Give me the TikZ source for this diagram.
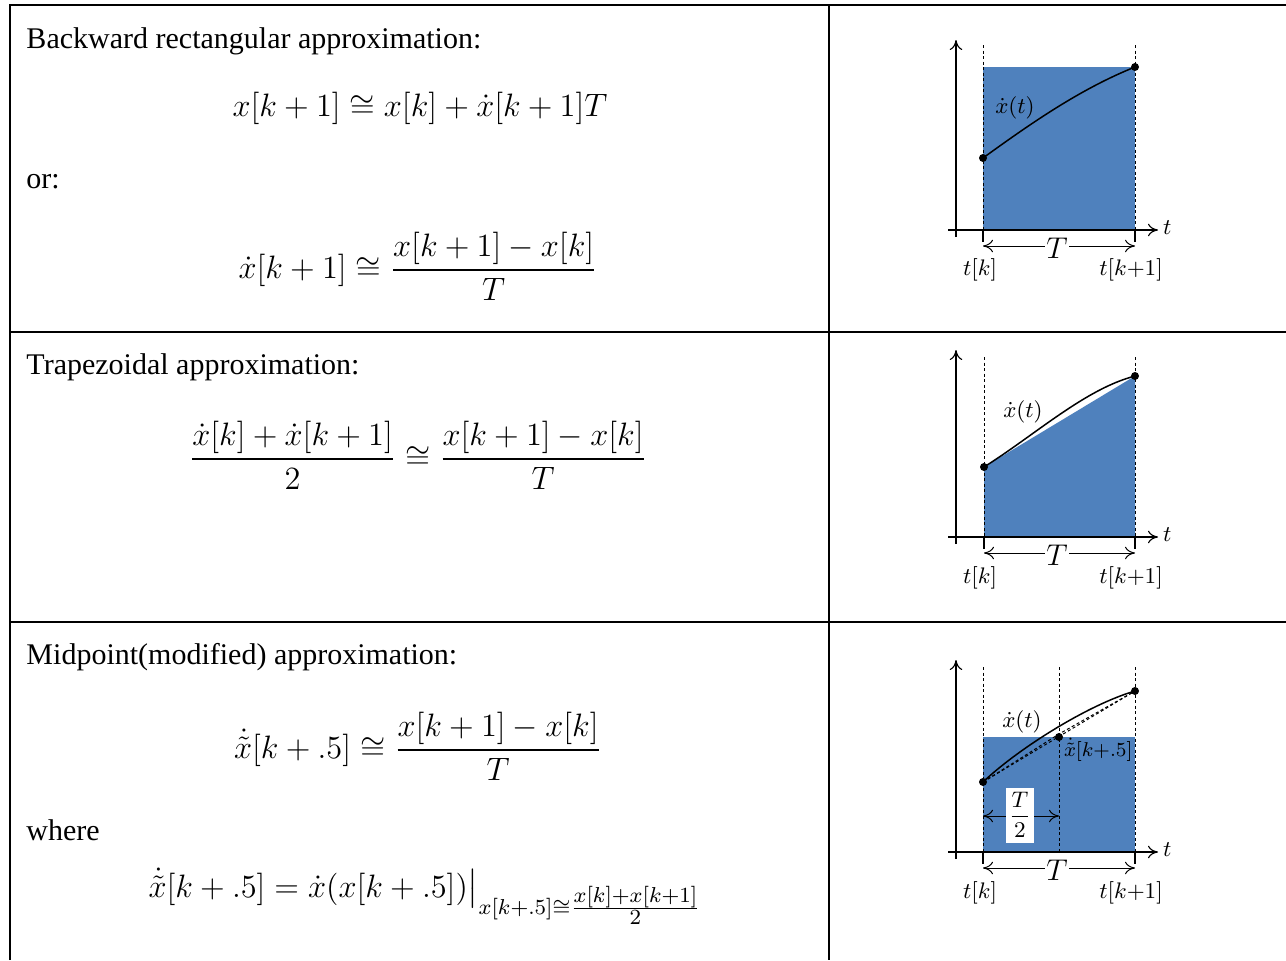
\documentclass[tikz,border=0pt,12pt]{standalone}
\usepackage{amsmath,amssymb}
\usepackage{fontspec}
\setmainfont{Liberation Serif}
\usetikzlibrary{arrows.meta}
\definecolor{areablue}{RGB}{79,129,189}
\tikzset{
  rule/.style    = {line width=0.8pt},
  axis/.style    = {-{To[length=4pt,width=5pt]}, line width=0.45pt},
  guide/.style   = {dash pattern=on 1.2pt off 1pt, line width=0.3pt},
  tickmark/.style= {line width=0.8pt},
  span/.style    = {{To[length=4pt,width=5pt]}-{To[length=4pt,width=5pt]}, line width=0.4pt},
  sample/.style  = {circle, fill=black, inner sep=0pt, minimum size=3.2pt},
  lbl/.style     = {font=\fontsize{9.5}{11}\selectfont, inner sep=1pt},
  bigT/.style    = {fill=white, font=\fontsize{12.5}{14}\selectfont, inner sep=0.5pt},
  heading/.style = {anchor=base west, inner sep=0pt},
  eq/.style      = {inner sep=0pt, scale=1.08, transform shape},
}

\begin{document}
\begin{tikzpicture}[x=0.4pt, y=-0.4pt]
  \useasboundingbox (0,0) rectangle (1286,960);

  % ── Table rules ─────────────────────────────────────────────────
  \draw[rule] (10,960) -- (10,5) -- (1286,5);
  \draw[rule] (829,5) -- (829,960);
  \draw[rule] (10,332) -- (1286,332);
  \draw[rule] (10,622) -- (1286,622);

  % ── Row 1: backward rectangular ─────────────────────────────────
  \node[heading] (h1) at (26,48) {Backward rectangular approximation:};
  \node[eq] (e1) at (420,108) {$\displaystyle x[k+1]\cong x[k]+\dot{x}[k+1]T$};
  \node[heading] (or) at (26,188) {or:};
  \node[eq] (e2) at (418,266)
    {$\displaystyle \dot{x}[k+1]\cong\frac{x[k+1]-x[k]}{T}$};

  % ── Row 2: trapezoidal ──────────────────────────────────────────
  \node[heading] (h2) at (26,374) {Trapezoidal approximation:};
  \node[eq] (e3) at (418,455)
    {$\displaystyle \frac{\dot{x}[k]+\dot{x}[k+1]}{2}\cong\frac{x[k+1]-x[k]}{T}$};

  % ── Row 3: midpoint ─────────────────────────────────────────────
  \node[heading] (h3) at (26,664) {Midpoint(modified) approximation:};
  \node[eq] (e4) at (418,746)
    {$\displaystyle \dot{\tilde{x}}[k+.5]\cong\frac{x[k+1]-x[k]}{T}$};
  \node[heading] (wh) at (26,840) {where};
  \node[eq, anchor=base west] (e5) at (148,897)
    {$\displaystyle \dot{\tilde{x}}[k+.5]=\dot{x}(x[k+.5])\big|_{x[k+.5]\cong\frac{\scriptstyle x[k]+x[k+1]}{\scriptstyle 2}}$};

  % ── Plot 1: rectangle under x(t) ───────────────────────────────
  \begin{scope}[shift={(0,230)}]
    \fill[areablue] (983,-163) rectangle (1135,0);
    \draw[axis] (956,7) -- (956,-190);
    \draw[axis] (948,0) -- (1158,0);
    \node[lbl, anchor=west] (t1) at (1160,-2) {$t$};
    \draw[guide] (983,-185) -- (983,0);
    \draw[guide] (1135,-185) -- (1135,0);
    \draw[tickmark] (983,0) -- (983,12);
    \draw[tickmark] (1135,0) -- (1135,12);
    \node[sample] (a1) at (983,-72) {};
    \node[sample] (b1) at (1135,-163) {};
    \draw[line width=0.6pt] (a1.center) .. controls (1030,-106) and (1080,-141) .. (b1.center);
    \node[lbl] at (1015,-122) {$\dot{x}(t)$};
    \draw[span] (983,16) -- (1135,16);
    \node[bigT] (T1) at (1057,18) {$T$};
    \node[lbl] (k1) at (980,40) {$t[k]$};
    \node[lbl] (kk1) at (1131,40) {$t[k{+}1]$};
  \end{scope}

  % ── Plot 2: trapezoid under x(t) ───────────────────────────────
  \begin{scope}[shift={(0,537)}]
    \fill[areablue] (984,0) -- (984,-70) -- (1135,-161) -- (1135,0) -- cycle;
    \draw[axis] (956,7) -- (956,-187);
    \draw[axis] (948,0) -- (1158,0);
    \node[lbl, anchor=west] (t2) at (1160,-2) {$t$};
    \draw[guide] (984,-180) -- (984,0);
    \draw[guide] (1135,-180) -- (1135,0);
    \draw[tickmark] (984,0) -- (984,12);
    \draw[tickmark] (1135,0) -- (1135,12);
    \node[sample] (a2) at (984,-70) {};
    \node[sample] (b2) at (1135,-161) {};
    \draw[line width=0.6pt] (a2.center) .. controls (1035,-102) and (1085,-148) .. (b2.center);
    \node[lbl] at (1023,-125) {$\dot{x}(t)$};
    \draw[span] (984,16) -- (1135,16);
    \node[bigT] (T2) at (1057,18) {$T$};
    \node[lbl] (k2) at (980,41) {$t[k]$};
    \node[lbl] (kk2) at (1131,41) {$t[k{+}1]$};
  \end{scope}

  % ── Plot 3: midpoint rectangle ─────────────────────────────────
  \begin{scope}[shift={(0,852)}]
    \fill[areablue] (983,-115) rectangle (1135,0);
    \draw[axis] (956,7) -- (956,-192);
    \draw[axis] (948,0) -- (1158,0);
    \node[lbl, anchor=west] (t3) at (1160,-2) {$t$};
    \draw[guide] (983,-185) -- (983,0);
    \draw[guide] (1059,-185) -- (1059,0);
    \draw[guide] (1135,-185) -- (1135,0);
    \draw[tickmark] (983,0) -- (983,12);
    \draw[tickmark] (1135,0) -- (1135,12);
    \node[sample] (a3) at (983,-70) {};
    \node[sample] (m3) at (1059,-115) {};
    \node[sample] (b3) at (1135,-161) {};
    \draw[line width=0.6pt] (a3.center) .. controls (1020,-105) and (1090,-148) .. (b3.center);
    \draw[guide, line width=0.4pt] (a3.center) -- (b3.center);
    \draw[guide, line width=0.4pt] (a3.center) -- (1059,-118) -- (b3.center);
    \node[lbl] at (1022,-130) {$\dot{x}(t)$};
    \node[lbl, anchor=west, font=\fontsize{8.5}{10}\selectfont] (mid) at (1061,-102) {$\dot{\tilde{x}}[k{+}.5]$};
    \draw[span] (983,-36) -- (1059,-36);
    \node[fill=white, inner sep=1pt, minimum width=9.6pt, minimum height=22pt,
          font=\fontsize{9}{10}\selectfont] (half) at (1020,-37) {$\dfrac{T}{2}$};
    \draw[span] (983,16) -- (1135,16);
    \node[bigT] (T3) at (1057,18) {$T$};
    \node[lbl] (k3) at (980,41) {$t[k]$};
    \node[lbl] (kk3) at (1131,41) {$t[k{+}1]$};
  \end{scope}
\end{tikzpicture}
\end{document}
